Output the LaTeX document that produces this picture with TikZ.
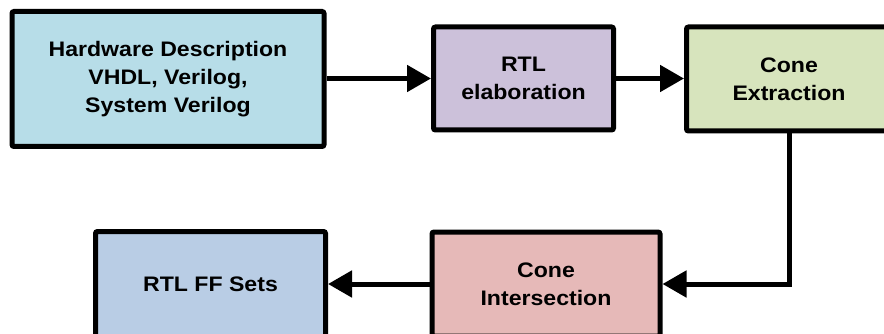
\documentclass[tikz,border=0pt]{standalone}
\usepackage{fontspec}
\setmainfont{Liberation Sans}[FakeStretch=1.1]
\usetikzlibrary{arrows.meta}
\definecolor{cHW}{HTML}{B7DDE8}
\definecolor{cRTL}{HTML}{CCC1DA}
\definecolor{cExt}{HTML}{D7E4BD}
\definecolor{cFF}{HTML}{B9CDE5}
\definecolor{cInt}{HTML}{E6B9B8}
\tikzset{
  blk/.style={draw=black, line width=5pt, rounded corners=2pt, inner sep=0pt,
    align=center, text=black, font=\bfseries\fontsize{21}{28}\selectfont},
  conn/.style={line width=5pt, -{Triangle[length=24pt,width=26pt]}}
}
\begin{document}
\begin{tikzpicture}[x=1pt,y=-1pt]
\useasboundingbox (0,0) rectangle (884,334);
\fill[white] (0,0) rectangle (884,334);
\clip (0,0) rectangle (884,334);
\node[blk, fill=cHW, minimum width=312pt, minimum height=135pt] (hw) at (168,79)
  {Hardware Description\\VHDL, Verilog,\\System Verilog};
\node[blk, fill=cRTL, minimum width=180pt, minimum height=103pt] (rtl) at (523.5,78.5)
  {RTL\\elaboration};
\node[blk, fill=cExt, minimum width=205pt, minimum height=104pt] (ext) at (789,79)
  {Cone\\Extraction};
\node[blk, fill=cFF, minimum width=230pt, minimum height=105pt] (ff) at (210.5,284)
  {RTL FF Sets};
\node[blk, fill=cInt, minimum width=228pt, minimum height=104pt] (int) at (546,284)
  {Cone\\Intersection};
\draw[conn] (hw.east |- rtl.west) -- (rtl.west);
\draw[conn] (rtl.east) -- (ext.west |- rtl.east);
\draw[conn] (ext.south) |- (int.east);
\draw[conn] (int.west) -- (ff.east);
\end{tikzpicture}
\end{document}
